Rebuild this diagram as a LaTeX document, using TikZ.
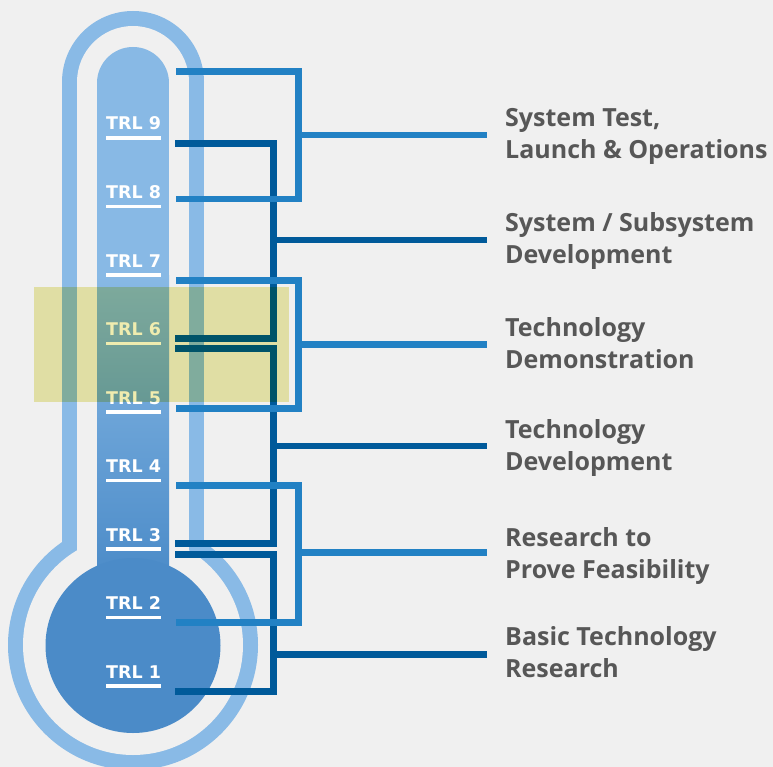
\documentclass[tikz,border=0pt]{standalone}
\usepackage{fontspec}
\newfontfamily\trlfont{DejaVu Sans}
\newfontfamily\labfont{Open Sans}
\usetikzlibrary{calc}
\definecolor{bg}{HTML}{F0F0F0}
\definecolor{ring}{HTML}{89BAE6}
\definecolor{tubetop}{HTML}{88B9E5}
\definecolor{bulb}{HTML}{4B8BC8}
\definecolor{lblue}{HTML}{2281C4}
\definecolor{dblue}{HTML}{005A9A}
\definecolor{txt}{HTML}{575757}
\definecolor{hl}{HTML}{EFECAF}
\begin{document}
\begin{tikzpicture}[x=1pt,y=-1pt,
  lb/.style={draw=lblue,line width=6.5pt,line join=miter},
  db/.style={draw=dblue,line width=6.5pt,line join=miter},
  trl/.style={anchor=base west,inner sep=0pt,text=white,font=\trlfont\bfseries\fontsize{17.5}{20}\selectfont},
  lab/.style={anchor=base west,inner sep=0pt,text=txt,align=left,font=\labfont\bfseries\fontsize{25}{32}\selectfont}]
\useasboundingbox (0,0) rectangle (773,767);
\fill[bg] (0,0) rectangle (773,767);
% thermometer outline
\fill[ring] (62,82) rectangle (204,560);
\fill[ring] (133,82) circle[radius=71];
\fill[ring] (133,645) circle[radius=125];
\fill[bg] (77,82) rectangle (189,600);
\fill[bg] (133,82) circle[radius=56];
\fill[bg] (133,645) circle[radius=110];
% inner tube
\fill[tubetop] (97,83) rectangle (169,276);
\fill[tubetop] (133,83) circle[radius=36];
\shade[top color=tubetop,bottom color=bulb] (97,275) rectangle (169,580);
\fill[bulb] (133,645.5) circle[radius=87.5];
% TRL labels
\foreach \k in {1,...,9}{
  \node[trl] (trl\k) at (106,{130+(9-\k)*68.5}) {TRL \k};
  \fill[white] (106,{136.2+(9-\k)*68.5}) rectangle (161,{139.8+(9-\k)*68.5});
}
% coordinates
\coordinate (vL) at (298.5,0);
\coordinate (vD) at (273.3,0);
% right labels (base = last line)
\node[lab] (t1) at (505,158.3) {System Test,\\Launch \& Operations};
\node[lab] (t2) at (505,263.3) {System / Subsystem\\Development};
\node[lab] (t3) at (505,368.3) {Technology\\Demonstration};
\node[lab] (t4) at (505,470) {Technology\\Development};
\node[lab] (t5) at (505,578.3) {Research to\\Prove Feasibility};
\node[lab] (t6) at (505,677.3) {Basic Technology\\Research};
\coordinate (o1) at (486.7,135);
\coordinate (o2) at (486.7,240);
\coordinate (o3) at (486.7,344.3);
\coordinate (o4) at (486.7,446);
\coordinate (o5) at (486.7,552.3);
\coordinate (o6) at (486.7,654.3);
% light brackets
\coordinate (a1) at (176,71.7);  \coordinate (b1) at (176,199);
\coordinate (a3) at (176,280.3); \coordinate (b3) at (176,408.3);
\coordinate (a5) at (176,485.3); \coordinate (b5) at (176,622.3);
% dark brackets
\coordinate (a2) at (175,143.3); \coordinate (b2) at (175,338.3);
\coordinate (a4) at (175,348.3); \coordinate (b4) at (175,543.3);
\coordinate (a6) at (175,554.3); \coordinate (b6) at (175,691.3);
\foreach \i in {2,4,6}{
  \draw[db] (a\i) -- (a\i -| vD) -- (b\i -| vD) -- (b\i);
  \draw[db] (o\i -| vD) -- (o\i);
}
\foreach \i in {1,3,5}{
  \draw[lb] (a\i) -- (a\i -| vL) -- (b\i -| vL) -- (b\i);
  \draw[lb] (o\i -| vL) -- (o\i);
}
% highlight
\begin{scope}[blend mode=multiply]
\fill[hl] (34,287) rectangle (288.7,401.7);
\end{scope}
\end{tikzpicture}
\end{document}
